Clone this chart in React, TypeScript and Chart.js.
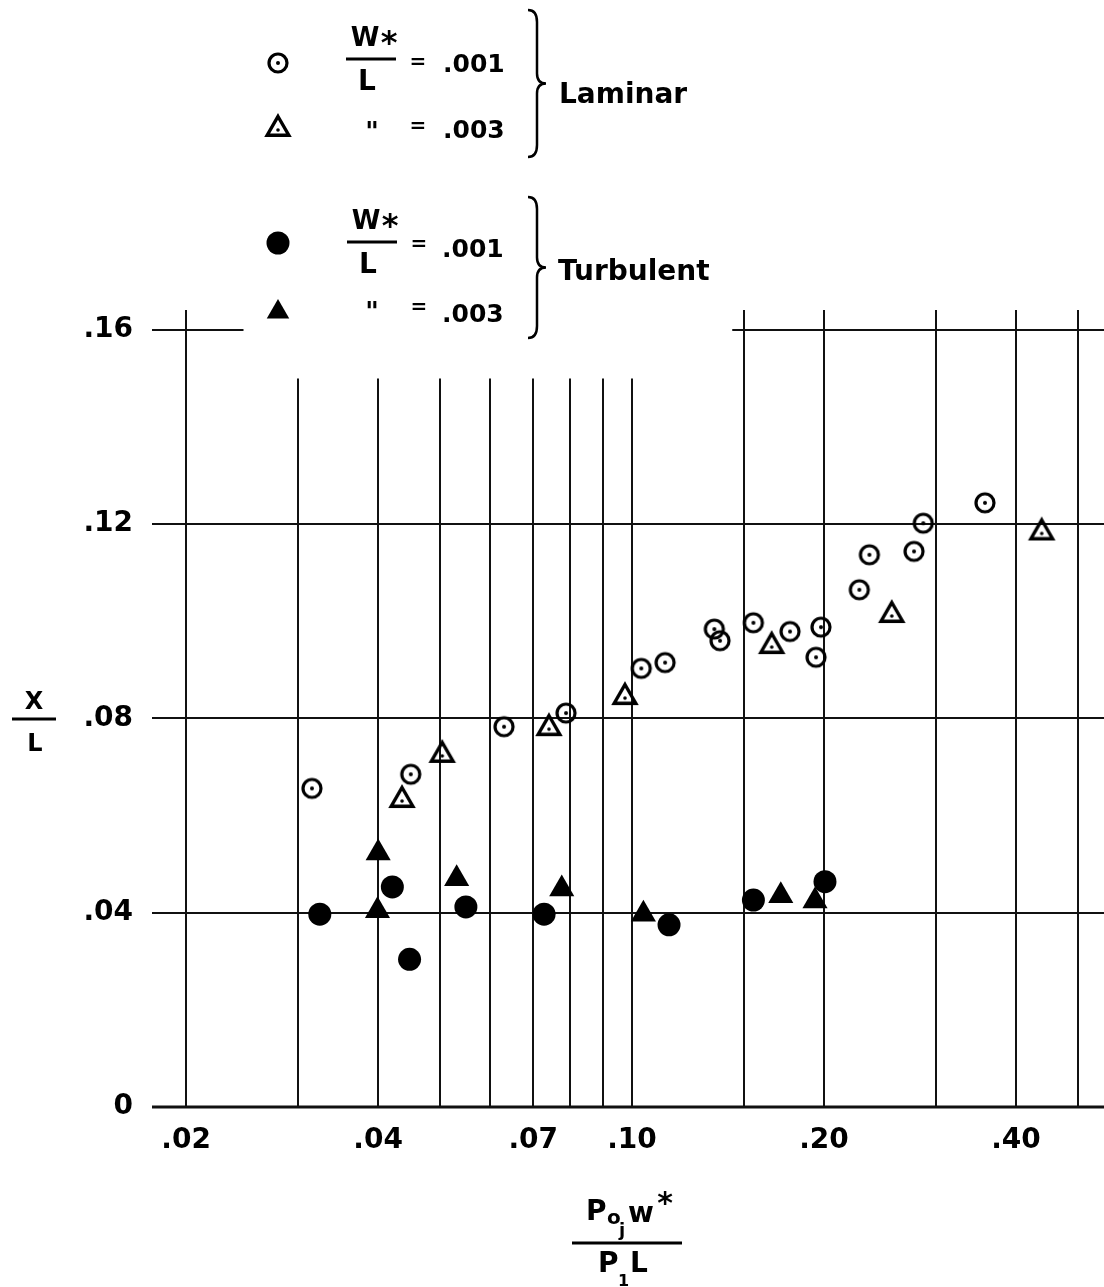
import React, { useEffect, useRef } from "react";
import { Chart, registerables } from "chart.js";

Chart.register(...registerables);

// ---- Data (x = Poj w* / P1 L, y = X/L) ----
const laminar001X = [0.0315, 0.045, 0.063, 0.0788, 0.1034, 0.1127, 0.1346, 0.1374, 0.155, 0.1769, 0.1943, 0.1978, 0.2272, 0.2356, 0.2768, 0.2862, 0.3576];
const laminar001Y = [0.0656, 0.0685, 0.0783, 0.0811, 0.0903, 0.0915, 0.0984, 0.096, 0.0997, 0.0979, 0.0926, 0.0988, 0.1065, 0.1137, 0.1144, 0.1202, 0.1244];

const laminar003X = [0.0436, 0.0504, 0.0741, 0.0975, 0.1656, 0.2554, 0.4389];
const laminar003Y = [0.0632, 0.0725, 0.078, 0.0844, 0.0949, 0.1013, 0.1183];

const turbulent001X = [0.0324, 0.0421, 0.0448, 0.0549, 0.0728, 0.1143, 0.155, 0.2007];
const turbulent001Y = [0.0397, 0.0453, 0.0304, 0.0412, 0.0397, 0.0375, 0.0426, 0.0464];

const turbulent003X = [0.04, 0.0399, 0.0531, 0.0776, 0.1042, 0.1711, 0.1936];
const turbulent003Y = [0.0523, 0.0404, 0.047, 0.0449, 0.0397, 0.0435, 0.0424];

// ---- Axes ----
const xMin = 0.01768;
const xMax = 0.5495;
const yMin = 0;
const yMax = 0.1641;

const xTickValues = [0.02, 0.03, 0.04, 0.05, 0.06, 0.07, 0.08, 0.09, 0.1, 0.15, 0.2, 0.3, 0.4, 0.5];
const xTickLabels = [".02", "", ".04", "", "", ".07", "", "", ".10", "", ".20", "", ".40", ""];
const xShortGridValues = [0.03, 0.04, 0.05, 0.06, 0.07, 0.08, 0.09, 0.1];
const xShortGridTop = 0.15;

const yTickValues = [0, 0.04, 0.08, 0.12, 0.16];
const yTickLabels = ["0", ".04", ".08", ".12", ".16"];
const yTopGridGap = [0.0246, 0.1436]; // x-range where the .16 grid line is interrupted by the legend

const FONT = '"DejaVu Sans", sans-serif';

function makeOpenCircle(): HTMLCanvasElement {
  const c = document.createElement("canvas");
  c.width = 28;
  c.height = 28;
  const g = c.getContext("2d")!;
  g.strokeStyle = "#000";
  g.lineWidth = 3.2;
  g.beginPath();
  g.arc(14, 14, 9, 0, Math.PI * 2);
  g.stroke();
  g.fillStyle = "#000";
  g.beginPath();
  g.arc(14, 14, 2, 0, Math.PI * 2);
  g.fill();
  return c;
}

function makeOpenTriangle(): HTMLCanvasElement {
  const c = document.createElement("canvas");
  c.width = 40;
  c.height = 40;
  const g = c.getContext("2d")!;
  const r = 12.5;
  g.strokeStyle = "#000";
  g.lineWidth = 3.4;
  g.lineJoin = "miter";
  g.beginPath();
  g.moveTo(20, 20 - r);
  g.lineTo(20 + r * 0.866, 20 + r / 2);
  g.lineTo(20 - r * 0.866, 20 + r / 2);
  g.closePath();
  g.stroke();
  g.fillStyle = "#000";
  g.beginPath();
  g.arc(20, 21, 1.8, 0, Math.PI * 2);
  g.fill();
  return c;
}

export default function App() {
  const ref = useRef<HTMLCanvasElement>(null);

  useEffect(() => {
    const canvas = ref.current;
    if (!canvas) return;
    const openCircle = makeOpenCircle();
    const openTri = makeOpenTriangle();
    const zip = (xs: number[], ys: number[]) => xs.map((x, i) => ({ x, y: ys[i] }));

    const line = (ctx: CanvasRenderingContext2D, x1: number, y1: number, x2: number, y2: number) => {
      ctx.beginPath();
      ctx.moveTo(x1, y1);
      ctx.lineTo(x2, y2);
      ctx.stroke();
    };

    const gridPlugin = {
      id: "partialGrid",
      beforeDatasetsDraw(chart: any) {
        const { ctx, chartArea } = chart;
        const xs = chart.scales.x;
        const ys = chart.scales.y;
        ctx.save();
        ctx.strokeStyle = "#111";
        ctx.lineWidth = 2;
        ctx.lineCap = "butt";
        xTickValues.forEach((v) => {
          const px = Math.round(xs.getPixelForValue(v));
          const top = xShortGridValues.includes(v) ? ys.getPixelForValue(xShortGridTop) : chartArea.top;
          line(ctx, px, top, px, chartArea.bottom);
        });
        yTickValues.forEach((v) => {
          const py = Math.round(ys.getPixelForValue(v));
          if (v === 0) {
            ctx.lineWidth = 3;
            line(ctx, chartArea.left, py, chartArea.right, py);
            ctx.lineWidth = 2;
          } else if (v === 0.16) {
            line(ctx, chartArea.left, py, xs.getPixelForValue(yTopGridGap[0]), py);
            line(ctx, xs.getPixelForValue(yTopGridGap[1]), py, chartArea.right, py);
          } else {
            line(ctx, chartArea.left, py, chartArea.right, py);
          }
        });
        ctx.restore();
      },
    };

    const legendPlugin = {
      id: "customLegend",
      afterDraw(chart: any) {
        const ctx: CanvasRenderingContext2D = chart.ctx;
        ctx.save();
        ctx.fillStyle = "#000";
        ctx.strokeStyle = "#000";
        const text = (s: string, x: number, y: number, size: number, align: CanvasTextAlign = "left", baseline: CanvasTextBaseline = "alphabetic") => {
          ctx.font = `bold ${size}px ${FONT}`;
          ctx.textAlign = align;
          ctx.textBaseline = baseline;
          ctx.fillText(s, x, y);
        };
        const bar = (x1: number, x2: number, y: number) => {
          ctx.lineWidth = 3;
          line(ctx, x1, y, x2, y);
        };
        const brace = (x0: number, top: number, bottom: number) => {
          const mid = (top + bottom) / 2;
          const sx = x0 + 9;
          ctx.lineWidth = 2.5;
          ctx.beginPath();
          ctx.moveTo(x0, top);
          ctx.quadraticCurveTo(sx, top, sx, top + 12);
          ctx.lineTo(sx, mid - 10);
          ctx.quadraticCurveTo(sx, mid, sx + 9, mid);
          ctx.quadraticCurveTo(sx, mid, sx, mid + 10);
          ctx.lineTo(sx, bottom - 12);
          ctx.quadraticCurveTo(sx, bottom, x0, bottom);
          ctx.stroke();
        };
        const fraction = (cx: number, y: number) => {
          text("W", cx - 2, y - 13, 26, "center");
          text("*", cx + 22, y - 30, 32, "center", "top");
          bar(cx - 21, cx + 29, y);
          text("L", cx, y + 31, 28, "center");
        };

        // Laminar group
        ctx.drawImage(openCircle, 278 - 14, 63 - 14);
        fraction(367, 59);
        text("=", 418, 63, 20, "center", "middle");
        text(".001", 443, 72, 25);
        ctx.drawImage(openTri, 278 - 20, 129 - 20);
        text("\"", 372, 141, 26, "center");
        text("=", 418, 127, 20, "center", "middle");
        text(".003", 443, 138, 25);
        brace(528, 10, 157);
        text("Laminar", 559, 103, 28);

        // Turbulent group
        ctx.beginPath();
        ctx.arc(278, 243, 11.5, 0, Math.PI * 2);
        ctx.fill();
        fraction(368, 242);
        text("=", 419, 245, 20, "center", "middle");
        text(".001", 442, 257, 25);
        const r = 13;
        ctx.beginPath();
        ctx.moveTo(278, 312 - r);
        ctx.lineTo(278 + r * 0.866, 312 + r / 2);
        ctx.lineTo(278 - r * 0.866, 312 + r / 2);
        ctx.closePath();
        ctx.fill();
        text("\"", 372, 321, 26, "center");
        text("=", 419, 308, 20, "center", "middle");
        text(".003", 442, 322, 25);
        brace(528, 197, 338);
        text("Turbulent", 558, 280, 28);

        // Y axis title X / L
        text("X", 34, 709, 24, "center");
        bar(12, 56, 719);
        text("L", 35, 751, 24, "center");

        // X axis title  Poj w* / P1 L
        text("P", 586, 1220, 28);
        text("o", 607, 1224, 20);
        text("j", 619, 1236, 18);
        text("w", 628, 1222, 28);
        text("*", 665, 1190, 30, "center", "top");
        bar(572, 682, 1243);
        text("P", 598, 1272, 28);
        text("1", 618, 1286, 16);
        text("L", 630, 1272, 28);

        ctx.restore();
      },
    };

    const tickFont = { family: FONT, size: 28, weight: "bold" as const };

    const chart = new Chart(canvas, {
      type: "scatter",
      data: {
        datasets: [
          {
            label: "Laminar W*/L = .001",
            data: zip(laminar001X, laminar001Y),
            pointStyle: openCircle as any,
            pointRadius: 10,
            pointHoverRadius: 10,
          },
          {
            label: "Laminar W*/L = .003",
            data: zip(laminar003X, laminar003Y),
            pointStyle: openTri as any,
            pointRadius: 10,
            pointHoverRadius: 10,
          },
          {
            label: "Turbulent W*/L = .001",
            data: zip(turbulent001X, turbulent001Y),
            pointStyle: "circle",
            pointRadius: 11.5,
            pointHoverRadius: 11.5,
            backgroundColor: "#000",
            borderColor: "#000",
            borderWidth: 0,
          },
          {
            label: "Turbulent W*/L = .003",
            data: zip(turbulent003X, turbulent003Y),
            pointStyle: "triangle",
            pointRadius: 14.5,
            pointHoverRadius: 14.5,
            backgroundColor: "#000",
            borderColor: "#000",
            borderWidth: 0,
          },
        ],
      },
      options: {
        animation: false,
        responsive: false,
        maintainAspectRatio: false,
        devicePixelRatio: 1,
        events: [],
        layout: { autoPadding: false, padding: { top: 310, left: 0, right: 0, bottom: 0 } },
        plugins: {
          legend: { display: false },
          tooltip: { enabled: false },
          title: { display: false },
        },
        scales: {
          x: {
            type: "logarithmic",
            min: xMin,
            max: xMax,
            bounds: "data",
            grid: { display: false, drawTicks: false },
            border: { display: false },
            afterBuildTicks: (s: any) => {
              s.ticks = xTickValues.map((v) => ({ value: v }));
            },
            afterFit: (s: any) => {
              s.height = 180;
            },
            ticks: {
              autoSkip: false,
              maxRotation: 0,
              minRotation: 0,
              padding: 17,
              color: "#000",
              font: tickFont,
              callback: (_v: any, i: number) => xTickLabels[i],
            },
          },
          y: {
            type: "linear",
            min: yMin,
            max: yMax,
            grid: { display: false, drawTicks: false },
            border: { display: false },
            afterBuildTicks: (s: any) => {
              s.ticks = yTickValues.map((v) => ({ value: v }));
            },
            afterFit: (s: any) => {
              s.width = 152;
            },
            ticks: {
              autoSkip: false,
              padding: 19,
              color: "#000",
              font: tickFont,
              callback: (_v: any, i: number) => yTickLabels[i],
            },
          },
        },
      },
      plugins: [gridPlugin, legendPlugin],
    } as any);

    return () => chart.destroy();
  }, []);

  return (
    <div style={{ position: "absolute", left: 0, top: 0, width: 1104, height: 1287, background: "#fff", overflow: "hidden" }}>
      <canvas ref={ref} width={1104} height={1287} style={{ display: "block" }} />
    </div>
  );
}
